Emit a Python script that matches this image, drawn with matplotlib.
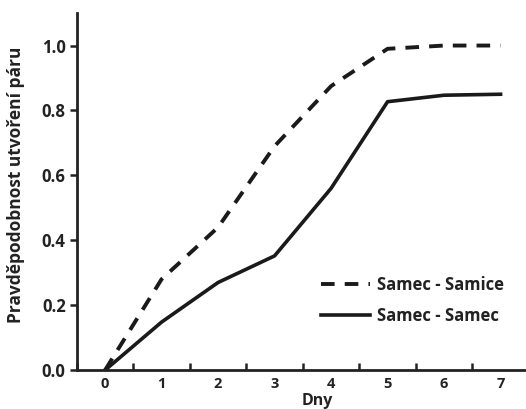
import matplotlib
matplotlib.use("Agg")
import matplotlib.pyplot as plt

days = [0, 1, 2, 3, 4, 5, 6, 7]
samec_samice = [0.0, 0.28, 0.44, 0.69, 0.875, 0.99, 1.0, 1.0]
samec_samec = [0.0, 0.148, 0.27, 0.352, 0.56, 0.827, 0.847, 0.85]
yticks = [0.0, 0.2, 0.4, 0.6, 0.8, 1.0]
ylabels = ["0.0", "0.2", "0.4", "0.6", "0.8", "1.0"]

plt.rcParams['font.family'] = ['Open Sans', 'DejaVu Sans']

fig = plt.figure(figsize=(5.26, 4.09), dpi=100)
ax = fig.add_axes([0.146, 0.095, 0.854, 0.873])

ax.plot(days, samec_samice, color='#1a1a1a', lw=2.8, linestyle=(0, (3.5, 2.6)),
        label='Samec - Samice')
ax.plot(days, samec_samec, color='#1a1a1a', lw=2.6, label='Samec - Samec')

ax.set_xlim(-0.5, 7.45)
ax.set_ylim(0, 1.1)

ax.set_xticks([d - 0.5 for d in days])
ax.set_xticklabels([])
ax.set_xticks(days, minor=True)
ax.set_xticklabels([str(d) for d in days], minor=True, fontsize=10.5, fontweight='bold', color='#222222')
ax.tick_params(axis='x', which='minor', length=0, pad=5)
ax.tick_params(axis='x', which='major', direction='in', length=5, width=1.8, color='#222222')

ax.set_yticks(yticks)
ax.set_yticklabels(ylabels, fontsize=12, fontweight='bold', color='#222222')
ax.tick_params(axis='y', direction='out', length=5, width=1.8, color='#222222', pad=3)

for s in ['top', 'right']:
    ax.spines[s].set_visible(False)
for s in ['left', 'bottom']:
    ax.spines[s].set_linewidth(2)
    ax.spines[s].set_color('#222222')

ax.set_ylabel('Pravděpodobnost utvoření páru', fontsize=12.5, fontweight='bold', color='#222222')
ax.yaxis.set_label_coords(-0.115, 0.52)
ax.set_xlabel('Dny', fontsize=11.5, fontweight='bold', color='#222222')
ax.xaxis.set_label_coords(0.535, -0.064)

leg = ax.legend(loc='lower right', bbox_to_anchor=(0.985, 0.085), frameon=False,
                prop={'weight': 'bold', 'size': 12}, handlelength=2.9, handletextpad=0.45,
                labelspacing=0.75)
for t in leg.get_texts():
    t.set_color('#222222')

fig.savefig('out.png', dpi=100)
